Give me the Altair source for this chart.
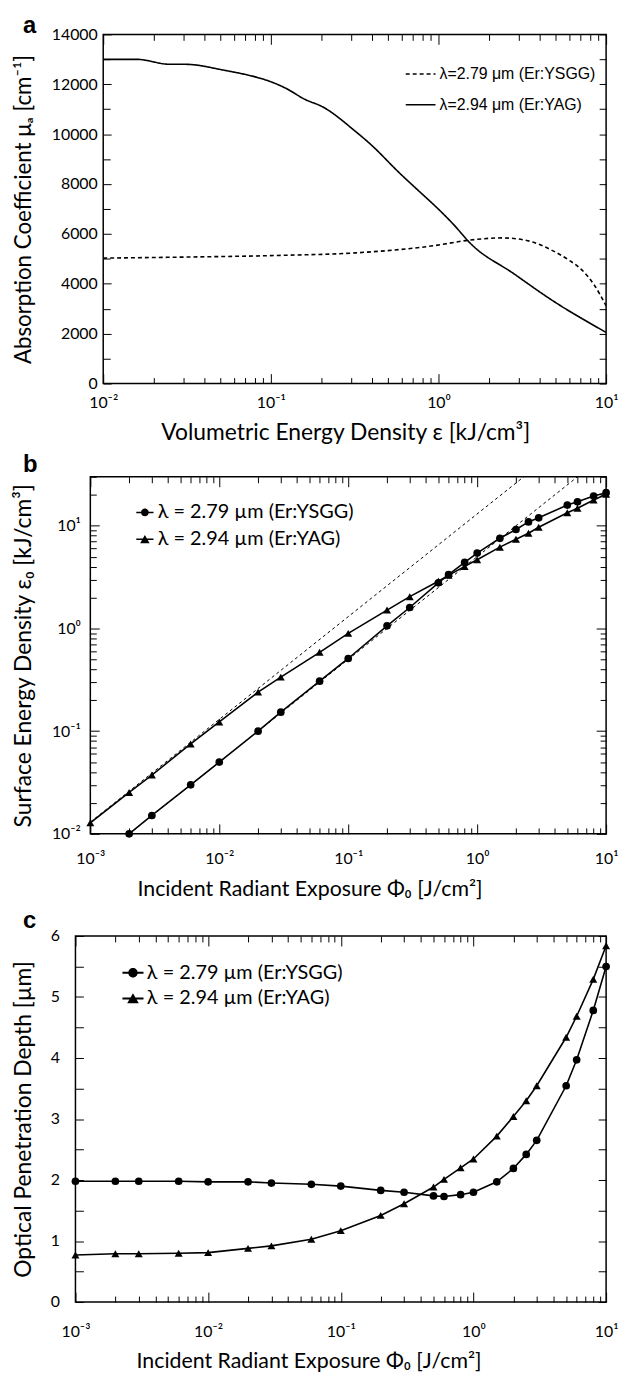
import altair as alt
import pandas as pd

FONT = "Lato"
LEG_FONT = "Liberation Sans"

# ---------------- panel a: absorption coefficient vs volumetric energy density ----------------
A_SERIES = ["λ=2.79 μm (Er:YSGG)", "λ=2.94 μm (Er:YAG)"]
A_EPS_YSGG = [0.01, 0.03, 0.108, 0.321, 0.953, 1.51, 2.40, 3.32, 4.86, 6.0, 7.11, 8.5, 10.0]
A_MU_YSGG = [5030, 5070, 5135, 5240, 5533, 5745, 5840, 5745, 5308, 4950, 4578, 3950, 3117]
A_EPS_YAG = [0.01, 0.0158, 0.025, 0.031, 0.0494, 0.126, 0.159, 0.203, 0.321, 0.40, 0.554,
             1.30, 1.51, 2.82, 4.86, 10.0]
A_MU_YAG = [13000, 13000, 12800, 12800, 12600, 11800, 11400, 11100, 10100, 9550, 8600,
            6200, 5700, 4400, 3300, 2050]
A_X_MAJOR = [0.01, 0.1, 1, 10]
A_X_LABELS = ["10⁻²", "10⁻¹", "10⁰", "10¹"]
A_X_MINOR = [m * d for d in [0.01, 0.1, 1] for m in range(2, 10)]
A_Y_MAJOR = [0, 2000, 4000, 6000, 8000, 10000, 12000, 14000]
A_Y_MINOR = [1000, 3000, 5000, 7000, 9000, 11000, 13000]

# ---------------- panel b: surface energy density vs incident radiant exposure ----------------
BC_SERIES = ["λ = 2.79 µm (Er:YSGG)", "λ = 2.94 µm (Er:YAG)"]
B_PHI_YSGG = [0.002, 0.003, 0.006, 0.01, 0.02, 0.03, 0.06, 0.1, 0.2, 0.3, 0.5, 0.6, 0.8, 1,
              1.5, 2, 2.5, 3, 5, 6, 8, 10]
B_EPS_YSGG = [0.010, 0.0151, 0.030, 0.050, 0.100, 0.153, 0.307, 0.51, 1.06, 1.6, 2.78, 3.34,
              4.40, 5.42, 7.55, 9.2, 10.9, 11.95, 15.9, 17.1, 19.5, 21.0]
B_PHI_YAG = [0.001, 0.002, 0.003, 0.006, 0.01, 0.02, 0.03, 0.06, 0.1, 0.2, 0.3, 0.5, 0.6, 0.8,
             1, 1.5, 2, 2.5, 3, 5, 6, 8, 10]
B_EPS_YAG = [0.0128, 0.0253, 0.0374, 0.075, 0.123, 0.24, 0.336, 0.586, 0.895, 1.51, 2.04,
             2.88, 3.29, 4.02, 4.67, 6.19, 7.39, 8.45, 9.66, 13.4, 14.8, 17.8, 20.3]
# dashed reference lines (end points)
B_REF_ID = ["hi", "hi", "lo", "lo"]
B_REF_PHI = [0.001, 2.3, 0.002, 6.0]
B_REF_EPS = [0.013, 30.0, 0.010, 30.0]
B_X_MAJOR = [0.001, 0.01, 0.1, 1, 10]
B_X_LABELS = ["10⁻³", "10⁻²", "10⁻¹", "10⁰", "10¹"]
B_X_MINOR = [m * d for d in [0.001, 0.01, 0.1, 1] for m in range(2, 10)]
B_Y_MAJOR = [0.01, 0.1, 1, 10]
B_Y_LABELS = ["10⁻²", "10⁻¹", "10⁰", "10¹"]
B_Y_MINOR = [m * d for d in [0.01, 0.1, 1] for m in range(2, 10)] + [20, 30]

# ---------------- panel c: optical penetration depth ----------------
C_PHI = [0.001, 0.002, 0.003, 0.006, 0.01, 0.02, 0.03, 0.06, 0.1, 0.2, 0.3, 0.5, 0.6, 0.8, 1,
         1.5, 2, 2.5, 3, 5, 6, 8, 10]
C_DEPTH_YSGG = [1.98, 1.98, 1.98, 1.98, 1.97, 1.97, 1.95, 1.93, 1.90, 1.83, 1.80, 1.74, 1.73,
                1.76, 1.80, 1.97, 2.19, 2.42, 2.65, 3.545, 3.97, 4.78, 5.50]
C_DEPTH_YAG = [0.77, 0.79, 0.79, 0.80, 0.81, 0.88, 0.92, 1.03, 1.17, 1.42, 1.61, 1.885, 2.01,
               2.20, 2.345, 2.72, 3.04, 3.30, 3.545, 4.34, 4.685, 5.29, 5.84]
C_Y_MAJOR = [0, 1, 2, 3, 4, 5, 6]
C_Y_MINOR = [0.5, 1.5, 2.5, 3.5, 4.5, 5.5]

PANEL_LABELS = ["a", "b", "c"]

# legend glyphs: a short line with a filled marker (filled outlines, clockwise winding)
SYM_CIRCLE = ("M-1,-0.09L1,-0.09L1,0.09L-1,0.09Z"
              "M0.45,0A0.45,0.45,0,1,1,-0.45,0A0.45,0.45,0,1,1,0.45,0Z")
SYM_TRIANGLE = ("M-1,-0.09L1,-0.09L1,0.09L-1,0.09Z"
                "M0,-0.5L0.55,0.45L-0.55,0.45Z")


def neg(n):
    return {"expr": str(-n)}


def label_expr(values, labels):
    pairs = ", ".join(f"'{v}': '{l}'" for v, l in zip(values, labels))
    return "{" + pairs + "}[datum.value] || ''"


def axis(orient, values, size, **kw):
    base = dict(orient=orient, values=values, tickSize=neg(size), domain=False, grid=False,
                tickColor="black", tickWidth=1, labels=False, title=None)
    base.update(kw)
    return alt.Axis(**base)


def axis_layers(df, xf, yf, xs, ys, xmaj, xmin, ymaj, ymin, xax_main, yax_main, maj=9, mnr=5,
                ymaj_size=None, ymin_size=None):
    ymaj_size = ymaj_size or maj
    ymin_size = ymin_size or mnr
    specs = [
        (xax_main, yax_main),
        (axis("bottom", xmin, mnr), axis("left", ymin, ymin_size)),
        (axis("top", xmaj, maj), axis("right", ymaj, ymaj_size)),
        (axis("top", xmin, mnr), axis("right", ymin, ymin_size)),
    ]
    out = []
    for ax, ay in specs:
        out.append(
            alt.Chart(df).transform_filter("false").mark_point(opacity=0).encode(
                x=alt.X(f"{xf}:Q", scale=xs, axis=ax),
                y=alt.Y(f"{yf}:Q", scale=ys, axis=ay),
            )
        )
    return out


def letter(df_lab, idx, dx, dy):
    return alt.Chart(df_lab).transform_filter(f"datum.k == '{PANEL_LABELS[idx]}'").mark_text(
        font=LEG_FONT, fontSize=24, fontWeight="bold", align="left", baseline="alphabetic"
    ).encode(x=alt.value(dx), y=alt.value(dy), text="k:N")


def spacer():
    return alt.Chart(df_lab).transform_filter("false").mark_point(opacity=0).encode(
        x=alt.value(0), y=alt.value(0)
    ).properties(width=1, height=1, view=alt.ViewBackground(stroke="transparent"))


df_lab = pd.DataFrame({"k": PANEL_LABELS})

# ======================= panel a =======================
WA, HA = 507, 352
df_a = pd.concat([
    pd.DataFrame({"eps": A_EPS_YSGG, "mu": A_MU_YSGG, "s": A_SERIES[0]}),
    pd.DataFrame({"eps": A_EPS_YAG, "mu": A_MU_YAG, "s": A_SERIES[1]}),
])
xs_a = alt.Scale(type="log", domain=[0.01, 10], nice=False)
ys_a = alt.Scale(domain=[0, 14000], nice=False, zero=False)

lines_a = alt.Chart(df_a).mark_line(color="black", strokeWidth=1.6, interpolate="monotone", clip=True).encode(
    x=alt.X("eps:Q", scale=xs_a, axis=None),
    y=alt.Y("mu:Q", scale=ys_a, axis=None),
    strokeDash=alt.StrokeDash(
        "s:N",
        scale=alt.Scale(domain=A_SERIES, range=[[4, 3], [1, 0]]),
        legend=alt.Legend(orient="none", legendX=304, legendY=24, title=None, symbolType="stroke",
                          symbolSize=900, symbolStrokeWidth=1.4, symbolStrokeColor="black",
                          labelFont=LEG_FONT, labelFontSize=16, labelOffset=3, rowPadding=7,
                          padding=0, labelColor="black", labelLimit=400),
    ),
)

xa_main = axis("bottom", A_X_MAJOR, 10, labels=True, labelExpr=label_expr(A_X_MAJOR, A_X_LABELS),
               labelPadding=21, labelFlush=False, title="Volumetric Energy Density ε [kJ/cm³]",
               titleBaseline="alphabetic", titleY=56, titleX=244, titleFontSize=23)
ya_main = axis("left", A_Y_MAJOR, 8, labels=True, format="d", labelPadding=14, labelFlush=False,
               title="Absorption Coefficient μₐ [cm⁻¹]", titleBaseline="top", titleX=-91,
               titleY=HA / 2, titleFontSize=22.5)
panel_a = alt.layer(
    lines_a,
    *axis_layers(df_a, "eps", "mu", xs_a, ys_a, A_X_MAJOR, A_X_MINOR, A_Y_MAJOR, A_Y_MINOR,
                 xa_main, ya_main, maj=10, mnr=6, ymaj_size=7, ymin_size=7),
    letter(df_lab, 0, -81, -1),
).resolve_axis(x="independent", y="independent").properties(width=WA, height=HA)

# ======================= panel b =======================
WB, HB = 520, 360
df_b = pd.concat([
    pd.DataFrame({"phi": B_PHI_YSGG, "eps": B_EPS_YSGG, "s": BC_SERIES[0]}),
    pd.DataFrame({"phi": B_PHI_YAG, "eps": B_EPS_YAG, "s": BC_SERIES[1]}),
])
df_bref = pd.DataFrame({"phi": B_REF_PHI, "eps": B_REF_EPS, "id": B_REF_ID})
xs_b = alt.Scale(type="log", domain=[0.001, 10], nice=False)
ys_b = alt.Scale(type="log", domain=[0.01, 30], nice=False)

ref_b = alt.Chart(df_bref).mark_line(color="black", strokeWidth=1, strokeDash=[3, 3], clip=True).encode(
    x=alt.X("phi:Q", scale=xs_b, axis=None), y=alt.Y("eps:Q", scale=ys_b, axis=None), detail="id:N")


def data_layers(df, xf, yf, xs, ys, lx, ly, rp, ssize):
    line = alt.Chart(df).mark_line(color="black", strokeWidth=1.6, clip=True).encode(
        x=alt.X(f"{xf}:Q", scale=xs, axis=None), y=alt.Y(f"{yf}:Q", scale=ys, axis=None), detail="s:N")
    circ = alt.Chart(df).transform_filter(f"datum.s == '{BC_SERIES[0]}'").mark_point(
        shape="circle", filled=True, size=60, color="black", opacity=1, clip=False).encode(
        x=alt.X(f"{xf}:Q", scale=xs, axis=None), y=alt.Y(f"{yf}:Q", scale=ys, axis=None))
    tri = alt.Chart(df).transform_filter(f"datum.s == '{BC_SERIES[1]}'").mark_point(
        shape="triangle-up", filled=True, size=65, color="black", opacity=1, clip=False).encode(
        x=alt.X(f"{xf}:Q", scale=xs, axis=None), y=alt.Y(f"{yf}:Q", scale=ys, axis=None))
    leg = alt.Chart(df).transform_filter("false").mark_point(filled=True, color="black", opacity=1).encode(
        x=alt.X(f"{xf}:Q", scale=xs, axis=None), y=alt.Y(f"{yf}:Q", scale=ys, axis=None),
        shape=alt.Shape("s:N", scale=alt.Scale(domain=BC_SERIES, range=[SYM_CIRCLE, SYM_TRIANGLE]),
                        legend=alt.Legend(orient="none", legendX=lx, legendY=ly, title=None,
                                          symbolSize=ssize, symbolStrokeWidth=0,
                                          symbolFillColor="black",
                                          labelFont=FONT, labelFontSize=20, labelOffset=3,
                                          rowPadding=rp, padding=0, labelColor="black",
                                          labelLimit=400)))
    return [line, circ, tri, leg]


xb_main = axis("bottom", B_X_MAJOR, 10, labels=True, labelExpr=label_expr(B_X_MAJOR, B_X_LABELS),
               labelPadding=27, labelFlush=False, title="Incident Radiant Exposure Φ₀ [J/cm²]",
               titleBaseline="alphabetic", titleY=62, titleX=221, titleFontSize=21.5)
yb_main = axis("left", B_Y_MAJOR, 9, labels=True, labelExpr=label_expr(B_Y_MAJOR, B_Y_LABELS),
               labelPadding=19, labelFlush=False, title="Surface Energy Density ε₀ [kJ/cm³]",
               titleBaseline="top", titleX=-78, titleY=HB / 2, titleFontSize=23)
panel_b = alt.layer(
    ref_b,
    *data_layers(df_b, "phi", "eps", xs_b, ys_b, 45, 26, 7, 300),
    *axis_layers(df_b, "phi", "eps", xs_b, ys_b, B_X_MAJOR, B_X_MINOR, B_Y_MAJOR, B_Y_MINOR,
                 xb_main, yb_main, maj=10, mnr=6),
    letter(df_lab, 1, -68, -5),
).resolve_axis(x="independent", y="independent").properties(width=WB, height=HB)

# ======================= panel c =======================
WC, HC = 535, 369
df_c = pd.concat([
    pd.DataFrame({"phi": C_PHI, "d": C_DEPTH_YSGG, "s": BC_SERIES[0]}),
    pd.DataFrame({"phi": C_PHI, "d": C_DEPTH_YAG, "s": BC_SERIES[1]}),
])
xs_c = alt.Scale(type="log", domain=[0.001, 10], nice=False)
ys_c = alt.Scale(domain=[0, 6], nice=False, zero=False)
xc_main = axis("bottom", B_X_MAJOR, 10, labels=True, labelExpr=label_expr(B_X_MAJOR, B_X_LABELS),
               labelPadding=32, labelFlush=False, title="Incident Radiant Exposure Φ₀ [J/cm²]",
               titleBaseline="alphabetic", titleY=66, titleX=235, titleFontSize=21.5)
yc_main = axis("left", C_Y_MAJOR, 8, labels=True, format="d", labelPadding=24, labelFlush=False,
               title="Optical Penetration Depth [µm]", titleBaseline="top", titleX=-63,
               titleY=HC / 2, titleFontSize=23)
panel_c = alt.layer(
    *data_layers(df_c, "phi", "d", xs_c, ys_c, 47, 26, 5, 450),
    *axis_layers(df_c, "phi", "d", xs_c, ys_c, B_X_MAJOR, B_X_MINOR, C_Y_MAJOR, C_Y_MINOR,
                 xc_main, yc_main, maj=10, mnr=6, ymaj_size=8, ymin_size=8),
    letter(df_lab, 2, -53, -8),
).resolve_axis(x="independent", y="independent").properties(width=WC, height=HC)


def row(panel):
    return alt.hconcat(spacer(), panel, spacing=0).resolve_scale(
        shape="independent", strokeDash="independent")


chart = alt.vconcat(row(panel_a), row(panel_b), row(panel_c), spacing=7).resolve_scale(
    shape="independent", strokeDash="independent"
).properties(
    padding={"left": 1, "top": 0, "right": 0, "bottom": 0}
).configure_view(stroke="black", strokeWidth=1.5).configure_axis(
    labelFont=FONT, labelFontSize=16, labelColor="black", titleFont=FONT, titleFontSize=20,
    titleColor="black", titleFontWeight="normal"
)

chart.save("out.html", embed_options={"renderer": "svg", "actions": False})
